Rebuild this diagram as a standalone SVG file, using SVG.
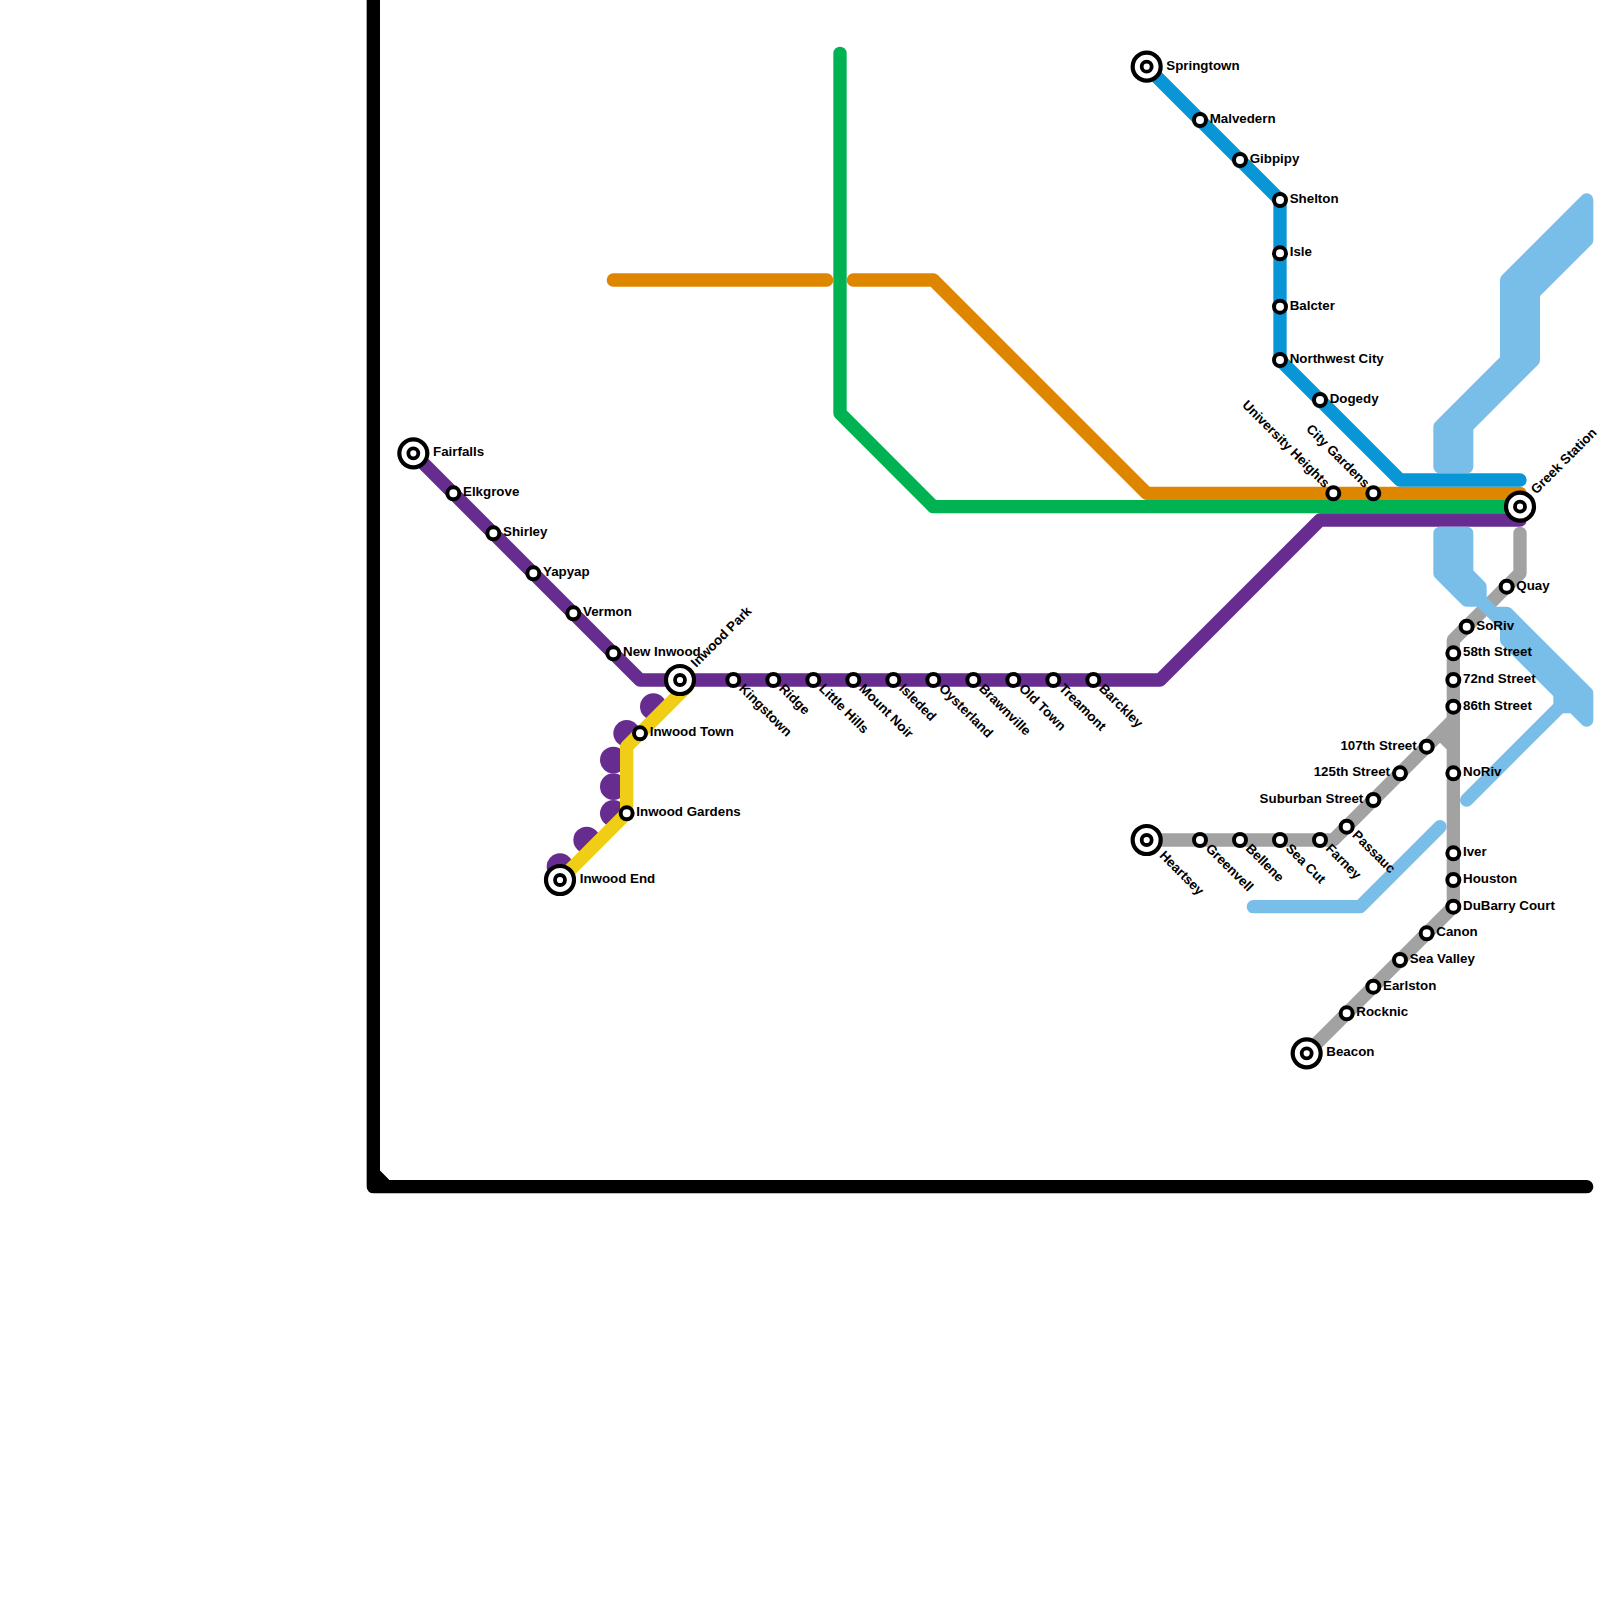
<svg xmlns="http://www.w3.org/2000/svg" width="1600" height="1600" viewBox="0 0 1600 1600">
<style>
.l{fill:none;stroke-width:13.33;stroke-linecap:round;stroke-linejoin:round}
.k{stroke:#000}.p{stroke:#662c90}.y{stroke:#f0ce15}.o{stroke:#df8600}.g{stroke:#00b251}.b{stroke:#0896d7}.a{stroke:#a2a2a2}.c{stroke:#79bde9}
.f{fill:#79bde9}.d{fill:#662c90}
.s{fill:#fff;stroke:#000;stroke-width:4}
.i{fill:#fff;stroke:#000;stroke-width:4.2}
.j{fill:#fff;stroke:#000;stroke-width:3.8}
text{font-family:"Liberation Sans",Arial,sans-serif;font-size:13.33px;font-weight:700;fill:#000}
.e{text-anchor:end}
</style>
<rect width="1600" height="1600" fill="#fff"/>
<g id="connectors">
<path class="l k" d="M373.33,-10V1186.67H1586.67M373.33,1173.33L386.67,1186.67"/>
<g class="d">
<circle cx="653.33" cy="706.67" r="13.33"/><circle cx="626.67" cy="733.33" r="13.33"/><circle cx="613.33" cy="760" r="13.33"/><circle cx="613.33" cy="786.67" r="13.33"/><circle cx="613.33" cy="813.33" r="13.33"/><circle cx="586.67" cy="840" r="13.33"/><circle cx="560" cy="866.67" r="13.33"/>
</g>
<path class="l y" d="M686.67,686.67L626.67,746.67V813.33L560,880"/>
<path class="l o" d="M613.33,280H826.67M853.33,280H933.33L1146.67,493.33H1520"/>
<path class="l g" d="M840,53.33V413.33L933.33,506.67H1520"/>
<path class="l p" d="M413.33,453.33L640,680H1160L1320,520H1520"/>
<path class="l b" d="M1146.67,66.67L1280,200V360L1400,480H1520"/>
<path class="l a" d="M1146.67,840H1333.33L1453.33,720M1440,733.33L1453.33,746.67M1520,533.33V573.33L1453.33,640V906.67L1306.67,1053.33"/>
<path class="l c f" d="M1586.67,200V240L1533.33,293.33V360L1466.67,426.67V466.67H1440V426.67L1506.67,360V280Z"/>
<path class="l c f" d="M1440,533.33H1466.67V573.33L1480,586.67V600L1493.33,613.33H1506.67L1586.67,693.33V720L1573.33,706.67H1560V693.33L1506.67,640V626.67L1480,600H1466.67L1440,573.33Z"/>
<path class="l c" d="M1560,706.67L1466.67,800M1253.33,906.67H1360L1440,826.67"/>
</g>
<g id="fairfalls"><circle class="i" cx="413.33" cy="453.33" r="14"/><circle class="j" cx="413.33" cy="453.33" r="5"/><text x="433" y="456.3">Fairfalls</text></g>
<g id="elkgrove"><circle class="s" cx="453.33" cy="493.33" r="6"/><text x="463" y="496.3">Elkgrove</text></g>
<g id="shirley"><circle class="s" cx="493.33" cy="533.33" r="6"/><text x="503" y="536.3">Shirley</text></g>
<g id="yapyap"><circle class="s" cx="533.33" cy="573.33" r="6"/><text x="543" y="576.3">Yapyap</text></g>
<g id="vermon"><circle class="s" cx="573.33" cy="613.33" r="6"/><text x="583" y="616.3">Vermon</text></g>
<g id="new-inwood"><circle class="s" cx="613.33" cy="653.33" r="6"/><text x="623" y="656.3">New Inwood</text></g>
<g id="inwood-park"><circle class="i" cx="680" cy="680" r="14"/><circle class="j" cx="680" cy="680" r="5"/><text transform="translate(680,680) rotate(-45)" x="20" y="3">Inwood Park</text></g>
<g id="inwood-town"><circle class="s" cx="640" cy="733.33" r="6"/><text x="649.7" y="736.3">Inwood Town</text></g>
<g id="inwood-gardens"><circle class="s" cx="626.67" cy="813.33" r="6"/><text x="636.3" y="816.3">Inwood Gardens</text></g>
<g id="inwood-end"><circle class="i" cx="560" cy="880" r="14"/><circle class="j" cx="560" cy="880" r="5"/><text x="579.7" y="883">Inwood End</text></g>
<g id="kingstown"><circle class="s" cx="733.33" cy="680" r="6"/><text transform="translate(733.33,680) rotate(45)" x="10" y="3">Kingstown</text></g>
<g id="ridge"><circle class="s" cx="773.33" cy="680" r="6"/><text transform="translate(773.33,680) rotate(45)" x="10" y="3">Ridge</text></g>
<g id="little-hills"><circle class="s" cx="813.33" cy="680" r="6"/><text transform="translate(813.33,680) rotate(45)" x="10" y="3">Little Hills</text></g>
<g id="mount-noir"><circle class="s" cx="853.33" cy="680" r="6"/><text transform="translate(853.33,680) rotate(45)" x="10" y="3">Mount Noir</text></g>
<g id="isleded"><circle class="s" cx="893.33" cy="680" r="6"/><text transform="translate(893.33,680) rotate(45)" x="10" y="3">Isleded</text></g>
<g id="oysterland"><circle class="s" cx="933.33" cy="680" r="6"/><text transform="translate(933.33,680) rotate(45)" x="10" y="3">Oysterland</text></g>
<g id="brawnville"><circle class="s" cx="973.33" cy="680" r="6"/><text transform="translate(973.33,680) rotate(45)" x="10" y="3">Brawnville</text></g>
<g id="old-town"><circle class="s" cx="1013.33" cy="680" r="6"/><text transform="translate(1013.33,680) rotate(45)" x="10" y="3">Old Town</text></g>
<g id="treamont"><circle class="s" cx="1053.33" cy="680" r="6"/><text transform="translate(1053.33,680) rotate(45)" x="10" y="3">Treamont</text></g>
<g id="barckley"><circle class="s" cx="1093.33" cy="680" r="6"/><text transform="translate(1093.33,680) rotate(45)" x="10" y="3">Barckley</text></g>
<g id="springtown"><circle class="i" cx="1146.67" cy="66.67" r="14"/><circle class="j" cx="1146.67" cy="66.67" r="5"/><text x="1166.3" y="69.7">Springtown</text></g>
<g id="malvedern"><circle class="s" cx="1200" cy="120" r="6"/><text x="1209.7" y="123">Malvedern</text></g>
<g id="gibpipy"><circle class="s" cx="1240" cy="160" r="6"/><text x="1249.7" y="163">Gibpipy</text></g>
<g id="shelton"><circle class="s" cx="1280" cy="200" r="6"/><text x="1289.7" y="203">Shelton</text></g>
<g id="isle"><circle class="s" cx="1280" cy="253.33" r="6"/><text x="1289.7" y="256.3">Isle</text></g>
<g id="balcter"><circle class="s" cx="1280" cy="306.67" r="6"/><text x="1289.7" y="309.7">Balcter</text></g>
<g id="northwest-city"><circle class="s" cx="1280" cy="360" r="6"/><text x="1289.7" y="363">Northwest City</text></g>
<g id="dogedy"><circle class="s" cx="1320" cy="400" r="6"/><text x="1329.7" y="403">Dogedy</text></g>
<g id="university-heights"><circle class="s" cx="1333.33" cy="493.33" r="6"/><text class="e" transform="translate(1333.33,493.33) rotate(45)" x="-10" y="3">University Heights</text></g>
<g id="city-gardens"><circle class="s" cx="1373.33" cy="493.33" r="6"/><text class="e" transform="translate(1373.33,493.33) rotate(45)" x="-10" y="3">City Gardens</text></g>
<g id="greek-station"><circle class="i" cx="1520" cy="506.67" r="14"/><circle class="j" cx="1520" cy="506.67" r="5"/><text transform="translate(1520,506.67) rotate(-45)" x="20" y="3">Greek Station</text></g>
<g id="quay"><circle class="s" cx="1506.67" cy="586.67" r="6"/><text x="1516.3" y="589.7">Quay</text></g>
<g id="soriv"><circle class="s" cx="1466.67" cy="626.67" r="6"/><text x="1476.3" y="629.7">SoRiv</text></g>
<g id="s58"><circle class="s" cx="1453.33" cy="653.33" r="6"/><text x="1463" y="656.3">58th Street</text></g>
<g id="s72"><circle class="s" cx="1453.33" cy="680" r="6"/><text x="1463" y="683">72nd Street</text></g>
<g id="s86"><circle class="s" cx="1453.33" cy="706.67" r="6"/><text x="1463" y="709.7">86th Street</text></g>
<g id="s107"><circle class="s" cx="1426.67" cy="746.67" r="6"/><text class="e" x="1416.7" y="749.7">107th Street</text></g>
<g id="s125"><circle class="s" cx="1400" cy="773.33" r="6"/><text class="e" x="1390" y="776.3">125th Street</text></g>
<g id="suburban"><circle class="s" cx="1373.33" cy="800" r="6"/><text class="e" x="1363.3" y="803">Suburban Street</text></g>
<g id="noriv"><circle class="s" cx="1453.33" cy="773.33" r="6"/><text x="1463" y="776.3">NoRiv</text></g>
<g id="passauc"><circle class="s" cx="1346.67" cy="826.67" r="6"/><text transform="translate(1346.67,826.67) rotate(45)" x="10" y="3">Passauc</text></g>
<g id="heartsey"><circle class="i" cx="1146.67" cy="840" r="14"/><circle class="j" cx="1146.67" cy="840" r="5"/><text transform="translate(1146.67,840) rotate(45)" x="20" y="3">Heartsey</text></g>
<g id="greenvell"><circle class="s" cx="1200" cy="840" r="6"/><text transform="translate(1200,840) rotate(45)" x="10" y="3">Greenvell</text></g>
<g id="bellene"><circle class="s" cx="1240" cy="840" r="6"/><text transform="translate(1240,840) rotate(45)" x="10" y="3">Bellene</text></g>
<g id="sea-cut"><circle class="s" cx="1280" cy="840" r="6"/><text transform="translate(1280,840) rotate(45)" x="10" y="3">Sea Cut</text></g>
<g id="farney"><circle class="s" cx="1320" cy="840" r="6"/><text transform="translate(1320,840) rotate(45)" x="10" y="3">Farney</text></g>
<g id="iver"><circle class="s" cx="1453.33" cy="853.33" r="6"/><text x="1463" y="856.3">Iver</text></g>
<g id="houston"><circle class="s" cx="1453.33" cy="880" r="6"/><text x="1463" y="883">Houston</text></g>
<g id="dubarry-court"><circle class="s" cx="1453.33" cy="906.67" r="6"/><text x="1463" y="909.7">DuBarry Court</text></g>
<g id="canon"><circle class="s" cx="1426.67" cy="933.33" r="6"/><text x="1436.3" y="936.3">Canon</text></g>
<g id="sea-valley"><circle class="s" cx="1400" cy="960" r="6"/><text x="1409.7" y="963">Sea Valley</text></g>
<g id="earlston"><circle class="s" cx="1373.33" cy="986.67" r="6"/><text x="1383" y="989.7">Earlston</text></g>
<g id="rocknic"><circle class="s" cx="1346.67" cy="1013.33" r="6"/><text x="1356.3" y="1016.3">Rocknic</text></g>
<g id="beacon"><circle class="i" cx="1306.67" cy="1053.33" r="14"/><circle class="j" cx="1306.67" cy="1053.33" r="5"/><text x="1326.3" y="1056.3">Beacon</text></g>
</svg>
